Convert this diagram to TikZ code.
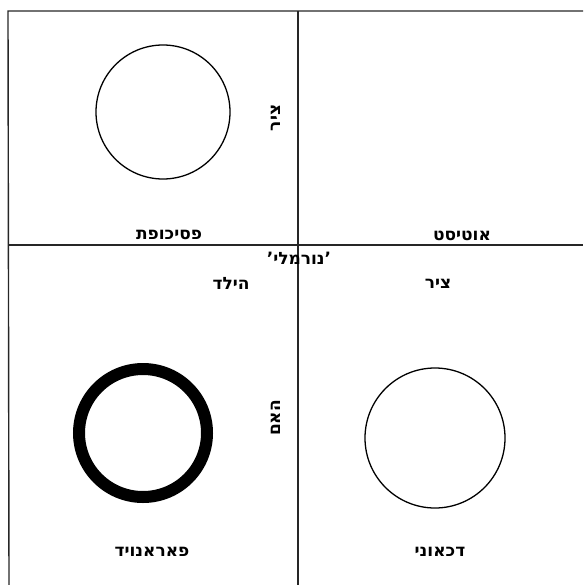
\documentclass[tikz,border=0pt]{standalone}
\usepackage{fontspec}
\newfontfamily\hebfont[Script=Hebrew]{DejaVu Sans}
\TeXXeTstate=1
\begin{document}
\begin{tikzpicture}[x=1pt,y=-1pt,
  frameline/.style={line width=1.4pt,black!85},
  ring/.style={circle,draw,line width=1.3pt,inner sep=0pt},
  heb/.style={inner sep=0pt,font=\hebfont\bfseries\fontsize{17}{19}\selectfont},
  hebrot/.style={heb,rotate=90}]
\useasboundingbox (0,0) rectangle (583,585);
% frame and axes
\coordinate (tl) at (8,11);
\coordinate (tr) at (583,11);
\coordinate (bl) at (9,585);
\coordinate (vt) at (298,11);
\coordinate (vb) at (298,585);
\coordinate (hl) at (9,245);
\coordinate (hr) at (583,245);
\draw[frameline] (tr) -- (tl) -- (bl);
\draw[frameline] (vt) -- (vb);
\draw[frameline] (hl) -- (hr);
% circles
\node[ring,minimum size=134pt] (c1) at (163,112) {};
\node[circle,draw,line width=12pt,inner sep=0pt,minimum size=128pt] (c2) at (143,433) {};
\node[ring,minimum size=140pt] (c3) at (435,438) {};
% labels
\node[heb] (psy) at (169,235) {\beginR פסיכופת\endR};
\node[heb] (aut) at (462,236) {\beginR אוטיסט\endR};
\node[heb] (norm) at (299,258) {\beginR ’נורמלי’\endR};
\node[heb] (child) at (231,283) {\beginR הילד\endR};
\node[heb] (axis2) at (438,284) {\beginR ציר\endR};
\node[heb] (para) at (152,552) {\beginR פאראנויד\endR};
\node[heb] (dep) at (440,552) {\beginR דכאוני\endR};
\node[hebrot] (axis1) at (276,118) {\beginR ציר\endR};
\node[hebrot] (mom) at (276,418) {\beginR האם\endR};
\end{tikzpicture}
\end{document}
